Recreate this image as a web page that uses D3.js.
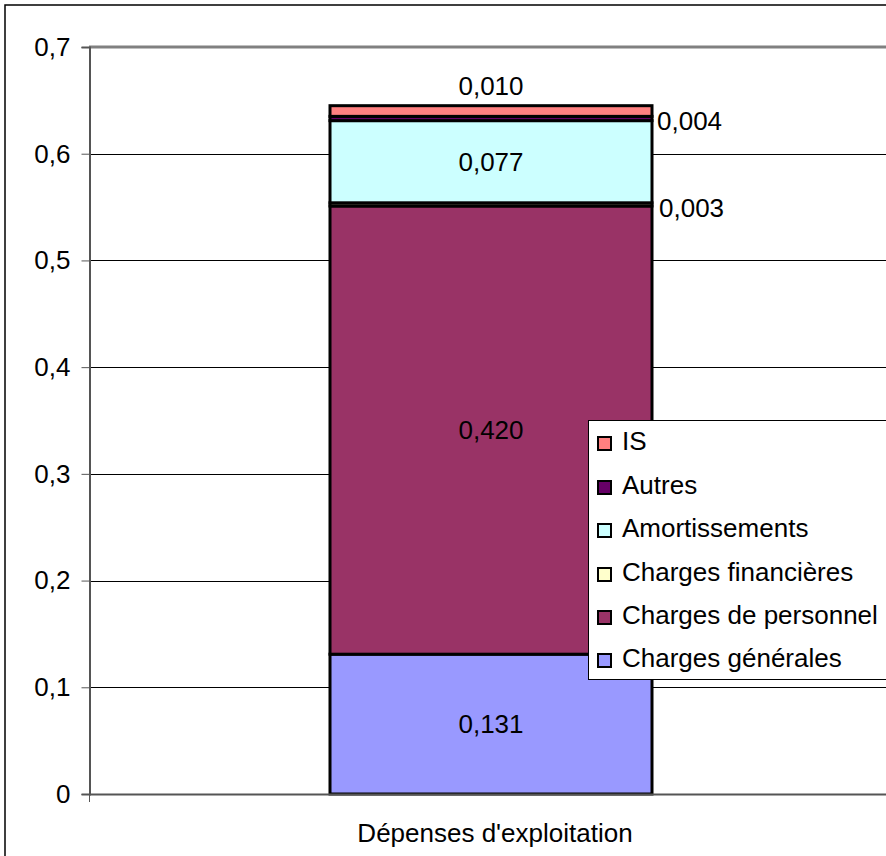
<!DOCTYPE html>
<html><head><meta charset="utf-8">
<script src="https://cdn.jsdelivr.net/npm/d3@7"></script>
<style>body{margin:0;background:#fff}svg{display:block;font-family:"Liberation Sans",Arial,sans-serif}</style>
</head><body>
<svg id="c" width="886" height="856"></svg>
<script>
const categories = ["Dépenses d'exploitation"];
const seriesNames = ["Charges générales","Charges de personnel","Charges financières","Amortissements","Autres","IS"];
const seriesValues = [0.131, 0.420, 0.003, 0.077, 0.004, 0.010];
const seriesColors = ["#9999FF","#993366","#FFFFCC","#CCFFFF","#660066","#FF8080"];
const yTicks = [0,0.1,0.2,0.3,0.4,0.5,0.6,0.7];
const yTickLabels = ["0","0,1","0,2","0,3","0,4","0,5","0,6","0,7"];
const valueLabels = ["0,131","0,420","0,003","0,077","0,004","0,010"];

const FS = 26;
const svg = d3.select("#c");
const L = 89, R = 890, T = 47, B = 794;
const y = d3.scaleLinear().domain([0,0.7]).range([B,T]);
const x = d3.scaleBand().domain(categories).range([L,R+4]).paddingInner(0).paddingOuter(0);

// outer frame
svg.append("rect").attr("x",5).attr("y",5).attr("width",900).attr("height",900)
  .attr("fill","none").attr("stroke","#000").attr("stroke-width",1.5);

// gridlines
svg.append("g").selectAll("line").data(yTicks.slice(1,-1)).join("line")
  .attr("x1",L).attr("x2",R).attr("y1",d=>Math.round(y(d))+0.5).attr("y2",d=>Math.round(y(d))+0.5)
  .attr("stroke","#000").attr("stroke-width",1);
// top plot border (gray)
svg.append("line").attr("x1",L).attr("x2",R).attr("y1",y(0.7)).attr("y2",y(0.7))
  .attr("stroke","#808080").attr("stroke-width",3);

// y axis
const yAxis = d3.axisLeft(y).tickValues(yTicks).tickFormat((d,i)=>yTickLabels[i]).tickSize(8).tickPadding(11);
const gy = svg.append("g").attr("transform",`translate(${L+0.5},0)`).call(yAxis);
gy.attr("font-size",FS).attr("font-family","Liberation Sans, Arial, sans-serif");
gy.select(".domain").attr("stroke","#555").attr("stroke-width",2);
gy.selectAll(".tick line").attr("stroke","#555").attr("stroke-width",1);
gy.selectAll(".tick text").attr("fill","#000");

// stacked bar
const barX = 330, barW = 322;
let cum = 0;
const segs = seriesValues.map((v,i)=>{const s={i,v,y0:cum,y1:cum+v}; cum+=v; return s;});
svg.append("g").selectAll("rect").data(segs).join("rect")
  .attr("x",barX).attr("width",barW)
  .attr("y",d=>y(d.y1)).attr("height",d=>y(d.y0)-y(d.y1))
  .attr("fill",d=>seriesColors[d.i]).attr("stroke","#000").attr("stroke-width",3);

// x axis baseline
svg.append("line").attr("x1",L).attr("x2",R).attr("y1",B+0.5).attr("y2",B+0.5).attr("stroke","#555").attr("stroke-width",2);
svg.append("line").attr("x1",L+0.5).attr("x2",L+0.5).attr("y1",B).attr("y2",B+8).attr("stroke","#555");

// value labels
const bc = barX + barW/2;
const lab = svg.append("g").attr("font-size",FS).attr("fill","#000");
segs.forEach(d=>{
  const mid = (y(d.y0)+y(d.y1))/2;
  let tx = bc, ty = mid + 9, anchor="middle";
  if(d.i===2){ tx = barX+barW+7; ty = mid+12.5; anchor="start"; }
  if(d.i===4){ tx = barX+barW+5; ty = mid+11.5; anchor="start"; }
  if(d.i===5){ tx = bc; ty = y(d.y1)-11; }
  lab.append("text").attr("x",tx).attr("y",ty).attr("text-anchor",anchor).text(valueLabels[d.i]);
});

// category label
svg.append("text").attr("x",495).attr("y",842).attr("text-anchor","middle").attr("font-size",FS).text(categories[0]);

// legend
const lg = svg.append("g").attr("transform","translate(588,420)");
lg.append("rect").attr("x",0.5).attr("y",0.5).attr("width",310).attr("height",259).attr("fill","#fff").attr("stroke","#000").attr("stroke-width",1);
const order = [5,4,3,2,1,0];
const rowBase = [30,74,117,161,204,247];
order.forEach((si,k)=>{
  lg.append("rect").attr("x",10).attr("y",rowBase[k]-13).attr("width",13).attr("height",13)
    .attr("fill",seriesColors[si]).attr("stroke","#000").attr("stroke-width",2);
  lg.append("text").attr("x",34).attr("y",rowBase[k]).attr("font-size",FS).text(seriesNames[si]);
});
</script>
</body></html>
